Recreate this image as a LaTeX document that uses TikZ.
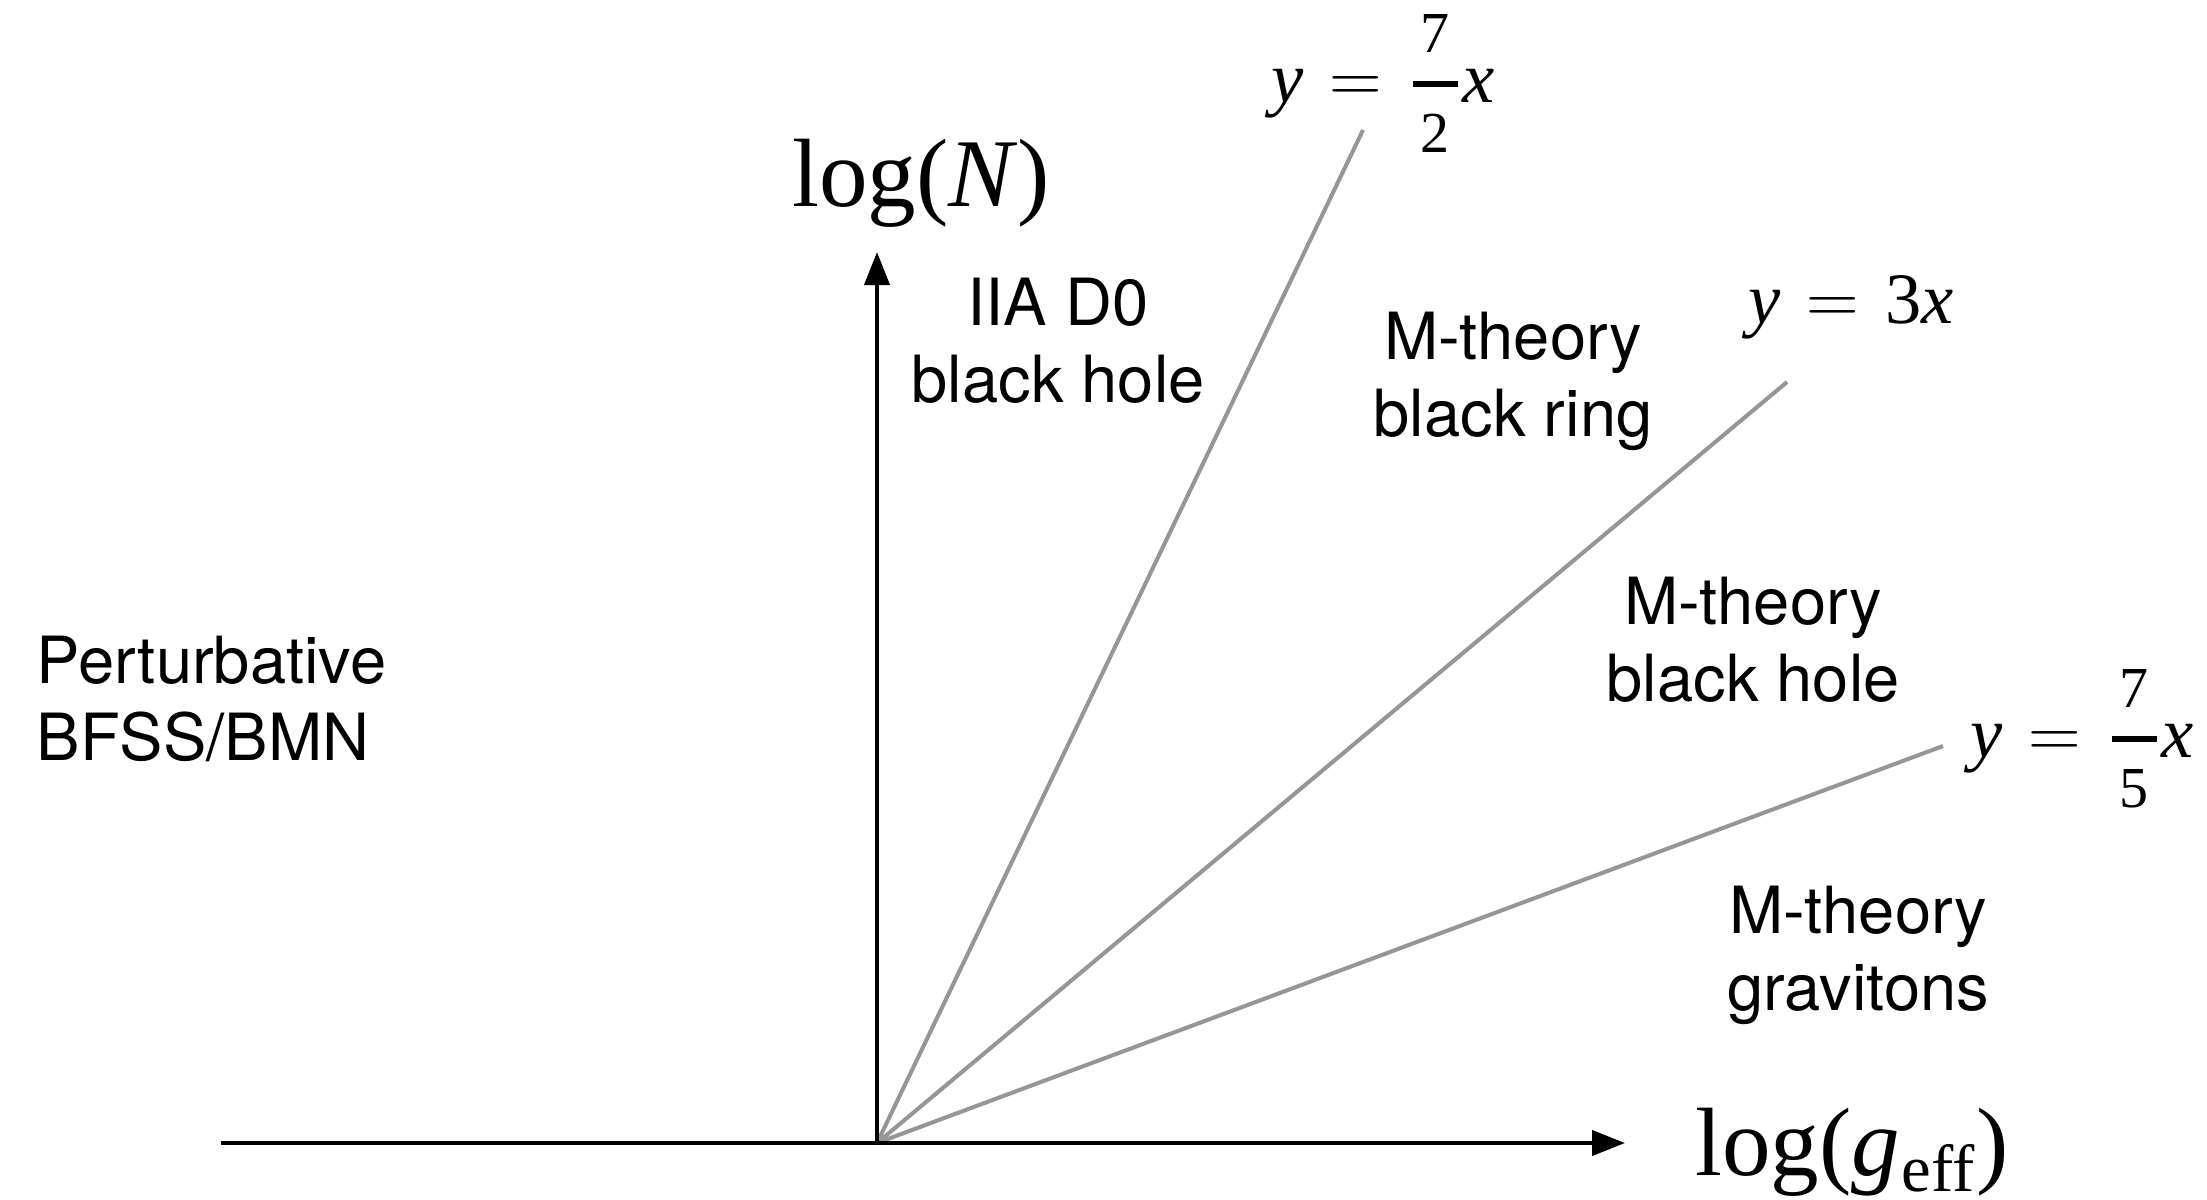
\documentclass[tikz,border=0pt]{standalone}
\usepackage{amsmath}
\usepackage{fontspec}
\setmainfont{Liberation Serif}
\newfontfamily\hv{TeX Gyre Heros}
\usetikzlibrary{arrows.meta}
\newcommand{\fr}[2]{\genfrac{}{}{1.6pt}{0}{\hbox to 13pt{\hss\fontsize{16.5}{16}\selectfont #1\hss}}{\hbox to 13pt{\hss\fontsize{16.5}{16}\selectfont #2\hss}}}
\newcommand{\eqsp}{\hspace{0.36em}}
\begin{document}
\begin{tikzpicture}[x=0.01cm,y=-0.01cm,
  axis/.style={line width=1.15pt, -{Triangle[length=0.33cm,width=0.25cm]}},
  ray/.style={line width=1.15pt, draw={rgb,255:red,150;green,150;blue,150}},
  region/.style={inner sep=0pt, align=center, font=\hv\fontsize{18.5}{21.9}\selectfont},
  biglab/.style={inner sep=0pt, anchor=base, font=\fontsize{27.6}{30}\selectfont},
  eqlab/.style={inner sep=0pt, anchor=base, font=\fontsize{20.6}{24}\selectfont}]
\useasboundingbox (0,0) rectangle (2207,1199);
\coordinate (O) at (877,1143);
\coordinate (xl) at (221,1143);
\coordinate (xr) at (1625,1143);
\coordinate (yt) at (877,252);
\coordinate (r1) at (1363,130);
\coordinate (r2) at (1787,382);
\coordinate (r3) at (1943,746);
\draw[ray] (O) -- (r1);
\draw[ray] (O) -- (r2);
\draw[ray] (O) -- (r3);
\draw[axis] (xl) -- (xr);
\draw[axis] (O) -- (yt);
\node[biglab] (lN) at (921,206) {log(\textit{N})};
\node[biglab] (lg) at (1852,1175) {log(\textit{g}\kern0.5pt$_{\text{\fontsize{19}{20}\selectfont eff}}$)};
\node[eqlab] (e1) at (1383,102) {\textit{y}\eqsp$=$\eqsp$\fr{7}{2}$\textit{x}};
\node[eqlab] (e2) at (1851,323) {\textit{y}\eqsp$=$\eqsp3\textit{x}};
\node[eqlab] (e3) at (2082,757) {\textit{y}\eqsp$=$\eqsp$\fr{7}{5}$\textit{x}};
\node[region] (d0) at (1058,341) {IIA D0\\black hole};
\node[region] (ring) at (1513,381) {M-theory\\black ring};
\node[region] (mbh) at (1753,640) {M-theory\\black hole};
\node[region] (grav) at (1858,955) {M-theory\\gravitons};
\node[region, align=left, anchor=west] (pert) at (36,699) {Perturbative\\BFSS/BMN};
\end{tikzpicture}
\end{document}
